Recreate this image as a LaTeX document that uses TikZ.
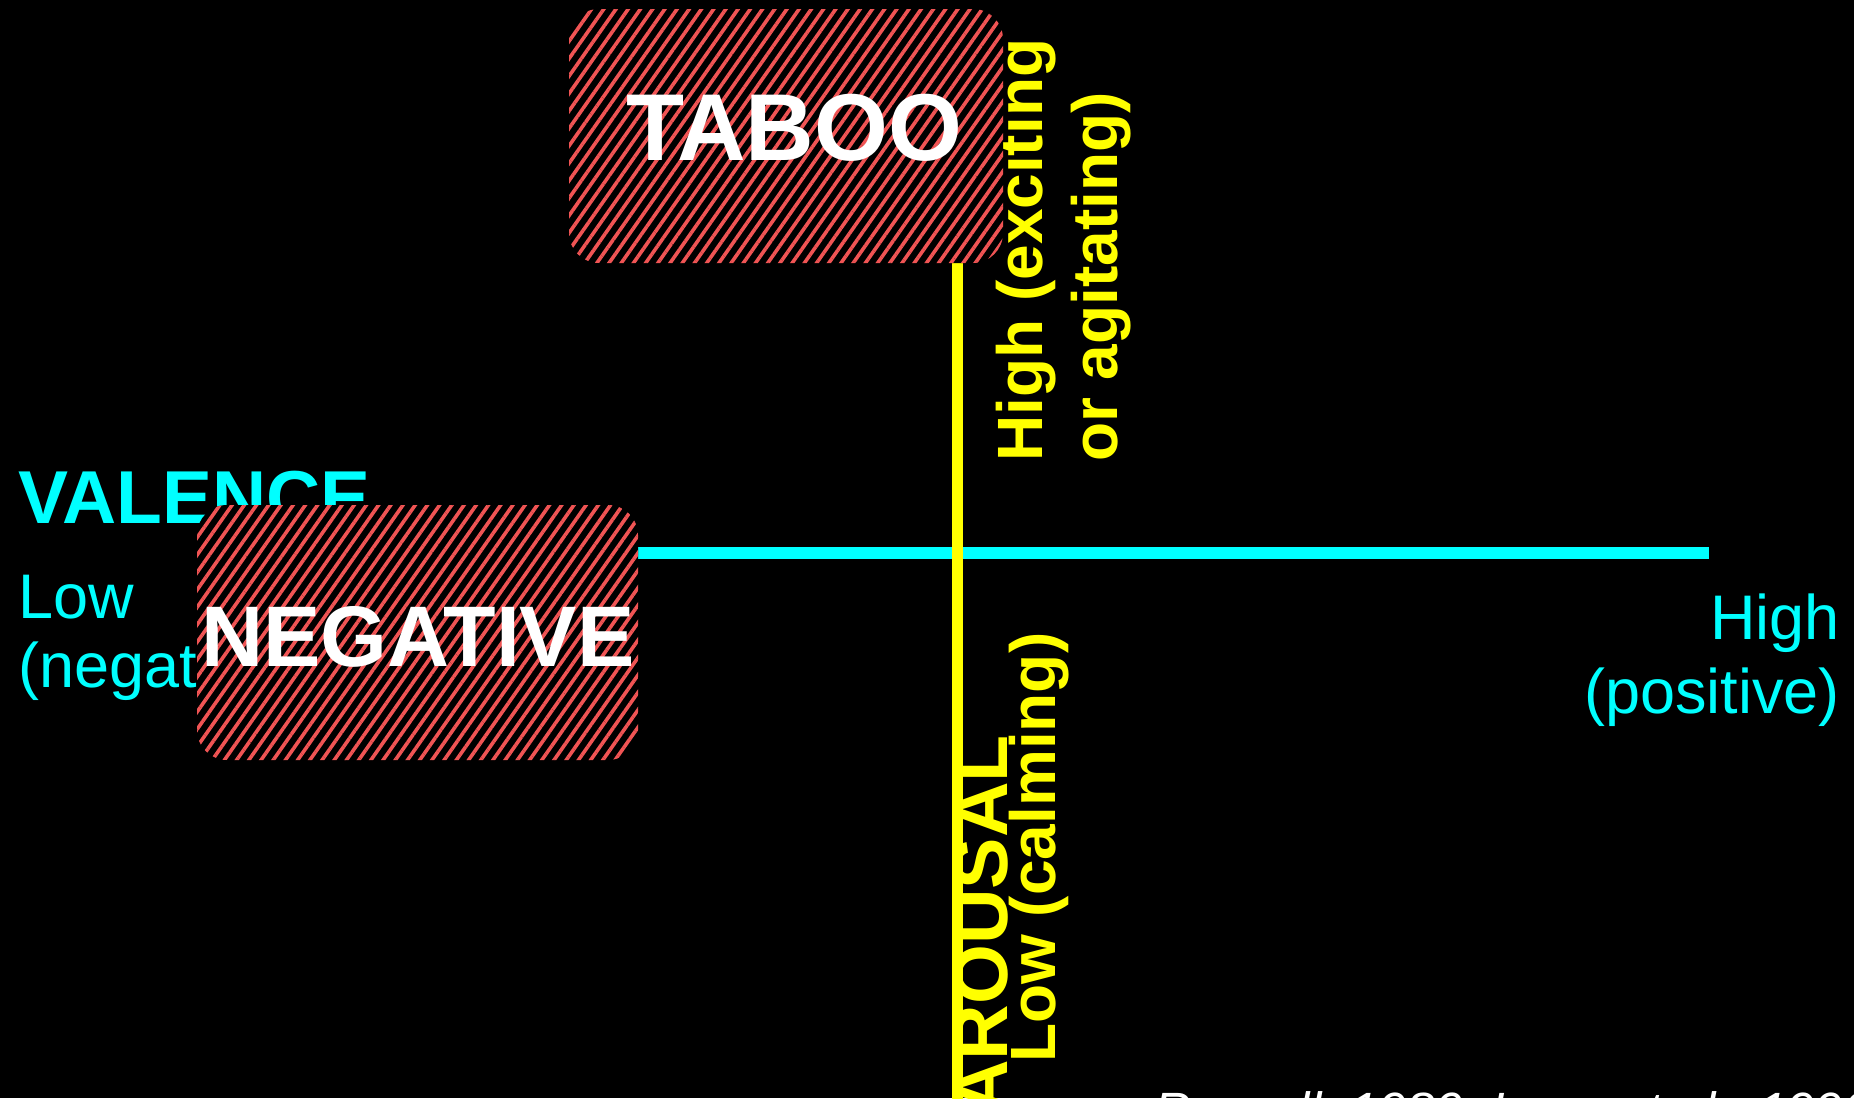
\documentclass[tikz,border=0pt]{standalone}
\usepackage{fontspec}
\setmainfont{Liberation Sans}
\usetikzlibrary{patterns.meta}
\definecolor{valcyan}{RGB}{0,255,255}
\definecolor{aryellow}{RGB}{255,255,0}
\definecolor{hatchred}{RGB}{240,84,84}
\tikzset{
  hatchbox/.style={rounded corners=30pt, inner sep=0pt, preaction={fill=black},
    pattern={Lines[angle=55,distance=10pt,line width=3.6pt]}, pattern color=hatchred},
  bigword/.style={text=white, inner sep=0pt, anchor=base},
  vallabel/.style={text=valcyan, inner sep=0pt},
  arlabel/.style={text=aryellow, inner sep=0pt, rotate=90, anchor=base west,
    font=\bfseries\fontsize{64}{76}\selectfont},
}
\begin{document}
\begin{tikzpicture}[x=1pt,y=-1pt]
                    \useasboundingbox (0,0) rectangle (1854,1098);
                    \clip (0,0) rectangle (1854,1098);
                    \fill [black] (0,0) rectangle (1854,1098);

                    % Marking valence labels
                    \node [vallabel, anchor=base west, font=\bfseries\fontsize{75}{90}\selectfont] (valence) at (18,523) {VALENCE};
                    \node [vallabel, anchor=base west, font=\fontsize{63}{76}\selectfont] (vallow) at (18,618) {Low};
                    \node [vallabel, anchor=base west, font=\fontsize{63}{76}\selectfont] (vallowb) at (18,687) {(negative)};
                    \node [vallabel, anchor=base east, font=\fontsize{63}{76}\selectfont] (valhigh) at (1840,639) {High};
                    \node [vallabel, anchor=base east, font=\fontsize{63}{76}\selectfont] (valhighb) at (1840,713) {(positive)};

                    % Drawing line valence
                    \coordinate (vleft) at (400,553);
                    \coordinate (vright) at (1709,553);
                    \draw [line width=12pt, valcyan] (vleft) -- (vright);

                    % Drawing line arousal
                    \coordinate (atop) at (957.5,263);
                    \coordinate (abottom) at (957.5,1100);
                    \draw [line width=11pt, aryellow] (atop) -- (abottom);

                    % Marking arousal labels
                    \node [arlabel, font=\bfseries\fontsize{77}{90}\selectfont] (arousal) at (1007,1116) {AROUSAL};
                    \node [arlabel] (arlow) at (1055,1063) {Low (calming)};
                    \node [arlabel] (arhigh) at (1042,462) {High (exciting};
                    \node [arlabel] (arhighb) at (1117,462) {or agitating)};

                    % Marking box TABOO
                    \node [hatchbox, minimum width=434pt, minimum height=254pt] (taboobox) at (786,136) {};
                    \node [bigword, font=\bfseries\fontsize{95}{110}\selectfont] (taboo) at (794,160) {TABOO};

                    % Marking box NEGATIVE
                    \node [hatchbox, minimum width=441pt, minimum height=255pt] (negbox) at (417.5,632.5) {};
                    \node [bigword, font=\bfseries\fontsize{86}{100}\selectfont] (negative) at (418,666) {NEGATIVE};

                    % Marking source
                    \node [text=white, inner sep=0pt, anchor=base west, font=\itshape\fontsize{51}{60}\selectfont] (source) at (1154,1128) {Russell, 1980; Lang et al., 1990};
\end{tikzpicture}
\end{document}
